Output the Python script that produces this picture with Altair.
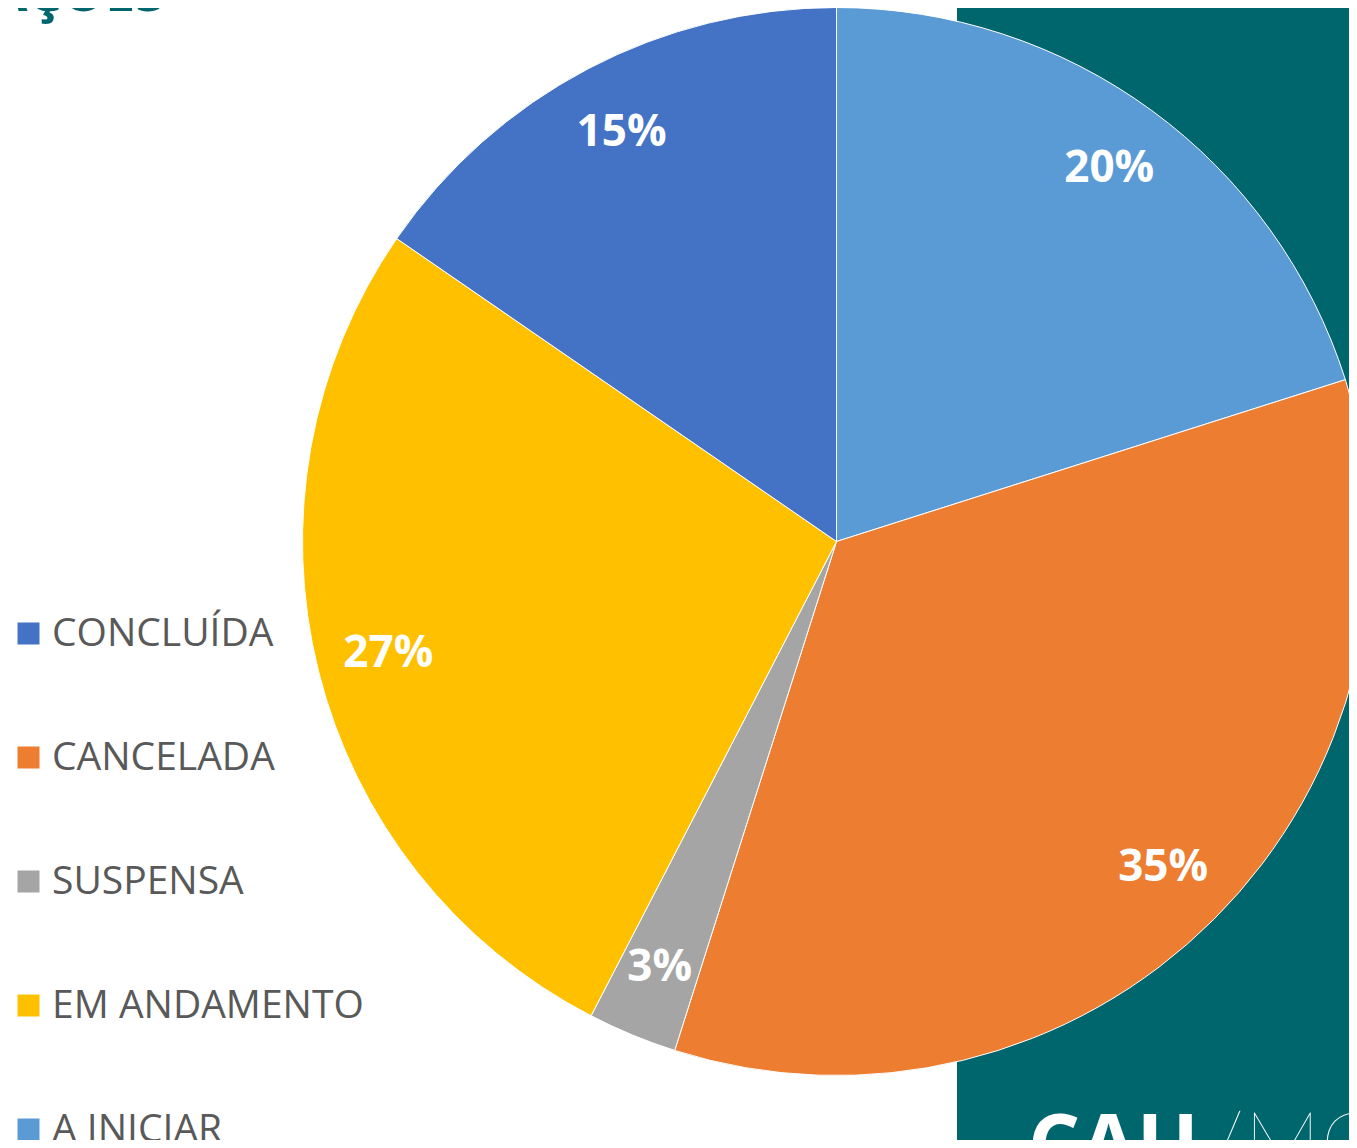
import altair as alt
import pandas as pd

# Data (shares in %; labels show rounded values)
categories = ["A INICIAR", "CANCELADA", "SUSPENSA", "EM ANDAMENTO", "CONCLUÍDA"]
values = [20.1, 34.8, 2.7, 27.0, 15.4]
pie_order = [1, 2, 3, 4, 5]
legend_order = ["CONCLUÍDA", "CANCELADA", "SUSPENSA", "EM ANDAMENTO", "A INICIAR"]
legend_colors = ["#4472C4", "#ED7D31", "#A5A5A5", "#FFC000", "#5B9BD5"]

df = pd.DataFrame({"status": categories, "value": values, "ord": pie_order})

W, H = 1341, 1132
CX, CY, R = 828.5, 533.5, 534
TEAL = "#00666E"

color = alt.Color(
    "status:N",
    scale=alt.Scale(domain=legend_order, range=legend_colors),
    sort=legend_order,
    legend=alt.Legend(
        title=None,
        orient="none",
        legendX=1,
        legendY=606,
        symbolType="square",
        symbolSize=484,
        symbolStrokeWidth=0,
        labelFont="Open Sans",
        labelFontSize=39,
        labelColor="#595959",
        labelOffset=4,
        rowPadding=84,
        padding=0,
        labelLimit=600,
    ),
)

bg = alt.Chart(alt.Data(values=[{"k": 1}])).mark_rect(color=TEAL).encode(
    x=alt.value(949), x2=alt.value(W + 10), y=alt.value(-10), y2=alt.value(H + 10)
)

base = alt.Chart(df).encode(
    theta=alt.Theta("value:Q", stack=True),
    order=alt.Order("ord:Q"),
)

pie = base.mark_arc(radius=R, stroke="white", strokeWidth=1).encode(
    color=color, x=alt.value(CX), y=alt.value(CY)
)

labels = base.transform_calculate(pct="datum.value / 100").mark_text(
    radius=462, font="Open Sans", fontSize=44, fontWeight="bold", color="white",
    align="center", baseline="middle",
).encode(
    text=alt.Text("pct:Q", format=".0%"), x=alt.value(CX), y=alt.value(CY)
)

title = alt.Chart(alt.Data(values=[{"t": "AÇÕES"}])).mark_text(
    font="Open Sans", fontSize=54, fontWeight="bold", color=TEAL,
    align="right", baseline="alphabetic",
).encode(text="t:N", x=alt.value(157), y=alt.value(3))

logo1 = alt.Chart(alt.Data(values=[{"t": "CAU"}])).mark_text(
    font="Open Sans", fontSize=82, fontWeight="bold", color="white",
    align="left", baseline="alphabetic",
).encode(text="t:N", x=alt.value(1020), y=alt.value(1165))

logo2 = alt.Chart(alt.Data(values=[{"t": "/MG"}])).mark_text(
    font="Lato", fontSize=86, fontWeight=200, color="white",
    align="left", baseline="alphabetic",
).encode(text="t:N", x=alt.value(1200), y=alt.value(1165))

chart = alt.layer(bg, pie, labels, title, logo1, logo2).properties(
    width=W, height=H, autosize=alt.AutoSizeParams(type="none"), padding=0,
    background="white",
).configure_view(strokeWidth=0, stroke="transparent")

chart.save("out.html", embed_options={"renderer": "svg", "actions": False})
